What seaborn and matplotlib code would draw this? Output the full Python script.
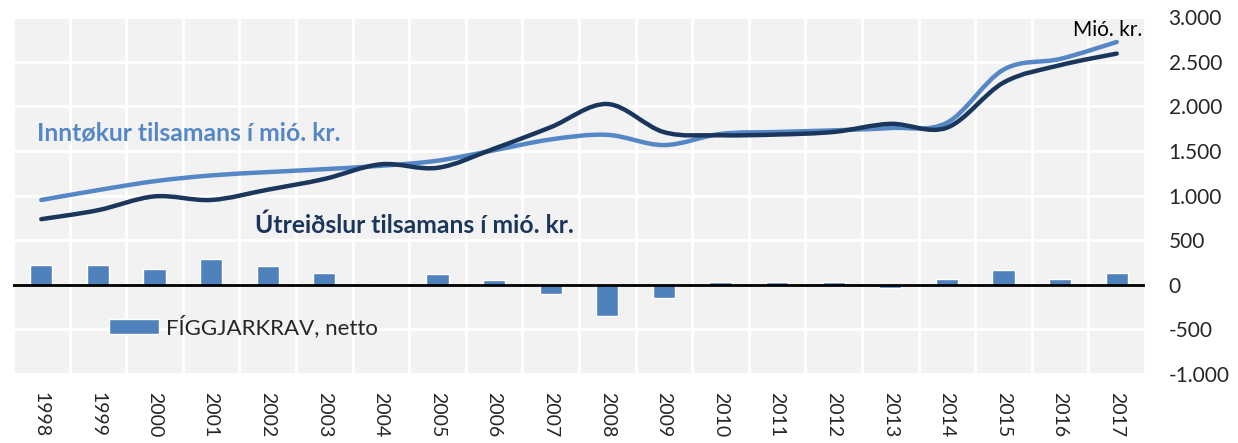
import numpy as np
import pandas as pd
import matplotlib
matplotlib.use("Agg")
import matplotlib.pyplot as plt
from matplotlib.path import Path
from matplotlib.patches import PathPatch
from matplotlib.ticker import FuncFormatter, MultipleLocator
import seaborn as sns

# data
years = [str(y) for y in range(1998, 2018)]
inntokur = [950, 1060, 1160, 1225, 1262, 1295, 1333, 1390, 1507, 1628, 1680, 1565,
            1690, 1712, 1730, 1756, 1815, 2410, 2530, 2720]
utreidslur = [735, 835, 990, 950, 1065, 1185, 1350, 1310, 1525, 1765, 2025, 1710,
              1675, 1683, 1712, 1803, 1760, 2265, 2460, 2590]
figgjarkrav = [225, 225, 180, 290, 205, 135, -10, 115, 48, -105, -350, -150,
               28, 28, 28, -35, 70, 160, 70, 135]

light = "#5587C6"
dark = "#1B365D"
barcol = "#4F81BD"

sns.set_theme(style="white")
plt.rcParams["font.family"] = ["Lato", "DejaVu Sans"]

df = pd.DataFrame({"year": years, "netto": figgjarkrav})

fig = plt.figure(figsize=(12.38, 4.43), dpi=100)
ax = fig.add_axes([13 / 1238, 1 - 374 / 443, 1132 / 1238, 357 / 443])
ax.set_facecolor("#F2F2F2")

sns.barplot(data=df, x="year", y="netto", color=barcol, width=0.39,
            saturation=1, ax=ax, label="FÍGGJARKRAV, netto", zorder=3)


def smooth_path(vals):
    # Excel style smoothed line drawn as bezier segments through the points
    xs = np.arange(len(vals), dtype=float)
    ys = np.asarray(vals, dtype=float)
    verts = [(xs[0], ys[0])]
    codes = [Path.MOVETO]
    n = len(vals)
    for i in range(n - 1):
        p0 = i - 1 if i > 0 else i
        p3 = i + 2 if i + 2 < n else i + 1
        c1 = (xs[i] + (xs[i + 1] - xs[p0]) / 6, ys[i] + (ys[i + 1] - ys[p0]) / 6)
        c2 = (xs[i + 1] - (xs[p3] - xs[i]) / 6, ys[i + 1] - (ys[p3] - ys[i]) / 6)
        verts += [c1, c2, (xs[i + 1], ys[i + 1])]
        codes += [Path.CURVE4] * 3
    return Path(verts, codes)


ax.add_patch(PathPatch(smooth_path(inntokur), facecolor="none", edgecolor=light,
                       lw=3.2, zorder=5, capstyle="round"))
ax.add_patch(PathPatch(smooth_path(utreidslur), facecolor="none", edgecolor=dark,
                       lw=3.2, zorder=6, capstyle="round"))

ax.axhline(0, color="black", lw=2, zorder=4)

ax.set_xlim(-0.5, 19.5)
ax.set_ylim(-1000, 3000)
ax.yaxis.set_major_locator(MultipleLocator(500))
ax.yaxis.tick_right()
ax.yaxis.set_major_formatter(FuncFormatter(lambda v, p: f"{v:,.0f}".replace(",", ".")))
ax.set_xticks(np.arange(-0.5, 20, 1), minor=True)
ax.grid(True, which="minor", axis="x", color="white", lw=2)
ax.grid(True, which="major", axis="y", color="white", lw=2)
ax.set_axisbelow(True)
ax.tick_params(axis="x", which="both", length=0, labelsize=14, pad=13, labelrotation=270)
ax.tick_params(axis="y", length=0, labelsize=15, pad=17)
for lab in ax.get_yticklabels():
    lab.set_horizontalalignment("left")
ax.set_xlabel("")
ax.set_ylabel("")
for s in ax.spines.values():
    s.set_visible(False)

ax.text(-0.08, 1690, "Inntøkur tilsamans í mió. kr.", color=light, fontsize=17.8,
        fontweight="bold", va="center", ha="left")
ax.text(3.78, 667, "Útreiðslur tilsamans í mió. kr.", color=dark, fontsize=17.8,
        fontweight="bold", va="center", ha="left")
ax.text(19.46, 2850, "Mió. kr.", color="black", fontsize=15, va="center", ha="right")

ax.legend(loc="center left", bbox_to_anchor=(0.0848, 0.132), frameon=False,
          fontsize=16, handlelength=2.25, handleheight=0.63, handletextpad=0.3,
          borderpad=0, borderaxespad=0)

fig.savefig("out.png", dpi=100)
